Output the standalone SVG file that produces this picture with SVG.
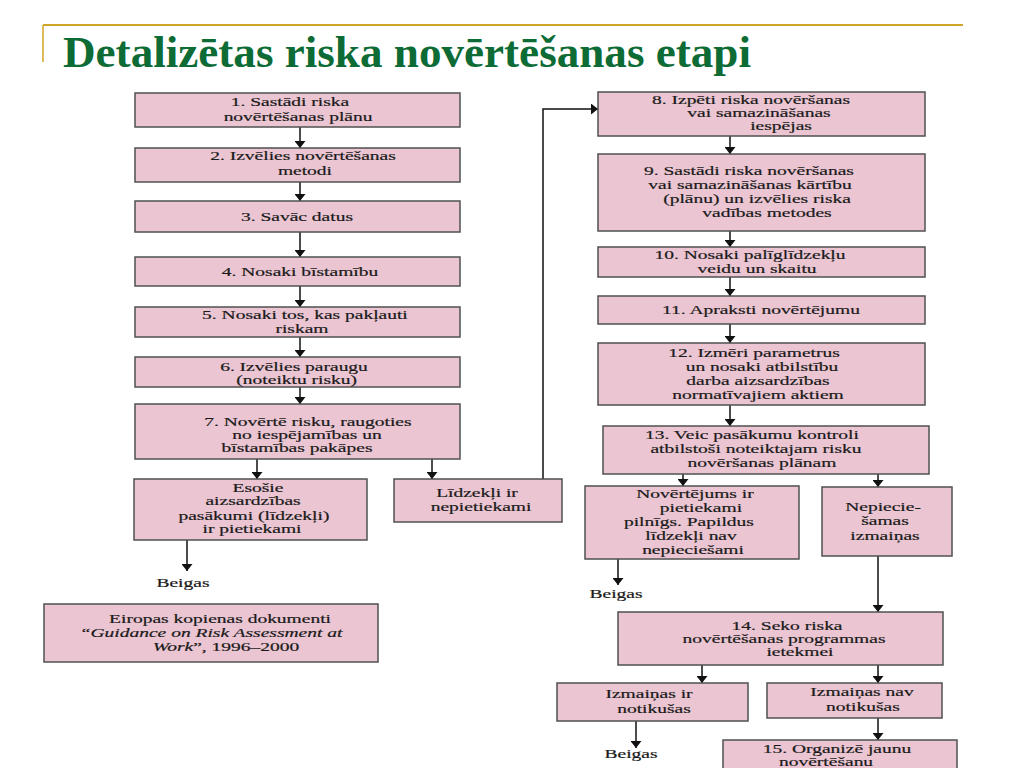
<svg xmlns="http://www.w3.org/2000/svg" width="1024" height="768" viewBox="0 0 1024 768">
<defs>
<style>
.bx{fill:#ebc6d2;stroke:#505050;stroke-width:1.5}
.t{font-family:"Liberation Serif","Times New Roman",serif;font-size:13px;fill:#1a1a1a;stroke:#1a1a1a;stroke-width:0.2;text-anchor:middle}
.ln{fill:none;stroke:#111;stroke-width:1.5}
.title{font-family:"Liberation Serif","Times New Roman",serif;font-size:44px;font-weight:bold;fill:#0d6b35}
</style>
<marker id="ah" viewBox="0 0 7 11" refX="7" refY="5.5" markerWidth="7" markerHeight="11" markerUnits="userSpaceOnUse" orient="auto">
<path d="M0,0 L7,5.5 L0,11 z" fill="#111"/>
</marker>
</defs>
<rect width="1024" height="768" fill="#fff"/>
<g id="header">
<line x1="43" y1="25" x2="963" y2="25" stroke="#d1a52a" stroke-width="2"/>
<line x1="43" y1="25" x2="43" y2="62" stroke="#d1a52a" stroke-width="1.5"/>
<text class="title" x="63" y="67" textLength="688" lengthAdjust="spacingAndGlyphs">Detalizētas riska novērtēšanas etapi</text>
</g>
<g id="connectors">
<path class="ln" marker-end="url(#ah)" d="M300,127 V148"/>
<path class="ln" marker-end="url(#ah)" d="M300,182 V201"/>
<path class="ln" marker-end="url(#ah)" d="M300,232 V257"/>
<path class="ln" marker-end="url(#ah)" d="M300,286 V307"/>
<path class="ln" marker-end="url(#ah)" d="M300,337 V357"/>
<path class="ln" marker-end="url(#ah)" d="M300,387 V404"/>
<path class="ln" marker-end="url(#ah)" d="M257,459 V479"/>
<path class="ln" marker-end="url(#ah)" d="M432,459 V479"/>
<path class="ln" marker-end="url(#ah)" d="M187,540 V571"/>
<path class="ln" marker-end="url(#ah)" d="M543,479 V109 H598"/>
<path class="ln" marker-end="url(#ah)" d="M730,136 V154"/>
<path class="ln" marker-end="url(#ah)" d="M730,231 V247"/>
<path class="ln" marker-end="url(#ah)" d="M730,277 V296"/>
<path class="ln" marker-end="url(#ah)" d="M730,324 V343"/>
<path class="ln" marker-end="url(#ah)" d="M730,405 V426"/>
<path class="ln" marker-end="url(#ah)" d="M683,474 V486"/>
<path class="ln" marker-end="url(#ah)" d="M878,474 V487"/>
<path class="ln" marker-end="url(#ah)" d="M618,559 V585"/>
<path class="ln" marker-end="url(#ah)" d="M878,556 V612"/>
<path class="ln" marker-end="url(#ah)" d="M702,665 V683"/>
<path class="ln" marker-end="url(#ah)" d="M878,665 V683"/>
<path class="ln" marker-end="url(#ah)" d="M636,721 V748"/>
<path class="ln" marker-end="url(#ah)" d="M878,718 V740"/>
</g>
<g id="n1"><rect class="bx" x="135" y="93" width="325" height="34"/>
<text class="t" transform="scale(1.5 1)"><tspan x="193.3" y="106">1. Sastādi riska</tspan><tspan x="198.7" y="121">novērtēšanas plānu</tspan></text></g>
<g id="n2"><rect class="bx" x="135" y="148" width="325" height="34"/>
<text class="t" transform="scale(1.5 1)"><tspan x="202" y="160">2. Izvēlies novērtēšanas</tspan><tspan x="203.3" y="175">metodi</tspan></text></g>
<g id="n3"><rect class="bx" x="135" y="201" width="325" height="31"/>
<text class="t" transform="scale(1.5 1)"><tspan x="198" y="221">3. Savāc datus</tspan></text></g>
<g id="n4"><rect class="bx" x="135" y="257" width="325" height="29"/>
<text class="t" transform="scale(1.5 1)"><tspan x="200" y="276">4. Nosaki bīstamību</tspan></text></g>
<g id="n5"><rect class="bx" x="135" y="307" width="325" height="30"/>
<text class="t" transform="scale(1.5 1)"><tspan x="203.3" y="319">5. Nosaki tos, kas pakļauti</tspan><tspan x="201.3" y="333">riskam</tspan></text></g>
<g id="n6"><rect class="bx" x="135" y="357" width="325" height="30"/>
<text class="t" transform="scale(1.5 1)"><tspan x="196" y="371">6. Izvēlies paraugu</tspan><tspan x="197.8" y="384">(noteiktu risku)</tspan></text></g>
<g id="n7"><rect class="bx" x="135" y="404" width="325" height="55"/>
<text class="t" transform="scale(1.5 1)"><tspan x="205.3" y="426">7. Novērtē risku, raugoties</tspan><tspan x="204.7" y="439">no iespējamības un</tspan><tspan x="198" y="452">bīstamības pakāpes</tspan></text></g>
<g id="n-esosie"><rect class="bx" x="134" y="479" width="233" height="61"/>
<text class="t" transform="scale(1.5 1)"><tspan x="172" y="492">Esošie</tspan><tspan x="168.7" y="505">aizsardzības</tspan><tspan x="169.3" y="520">pasākumi (līdzekļi)</tspan><tspan x="168" y="533">ir pietiekami</tspan></text></g>
<g id="n-lidzekli"><rect class="bx" x="394" y="479" width="168" height="43"/>
<text class="t" transform="scale(1.5 1)"><tspan x="318" y="497">Līdzekļi ir</tspan><tspan x="320.7" y="511">nepietiekami</tspan></text></g>
<g id="end1"><text class="t" transform="scale(1.5 1)"><tspan x="122" y="587">Beigas</tspan></text></g>
<g id="source"><rect class="bx" x="44" y="604" width="334" height="58"/>
<text class="t" transform="scale(1.5 1)"><tspan x="146.7" y="623">Eiropas kopienas dokumenti</tspan><tspan x="140.7" y="637" font-style="italic">“Guidance on Risk Assessment at</tspan><tspan x="150.7" y="651"><tspan font-style="italic">Work</tspan>”, 1996–2000</tspan></text></g>
<g id="n8"><rect class="bx" x="598" y="92" width="327" height="44"/>
<text class="t" transform="scale(1.5 1)"><tspan x="500.7" y="104">8. Izpēti riska novēršanas</tspan><tspan x="506" y="117">vai samazināšanas</tspan><tspan x="520.7" y="130">iespējas</tspan></text></g>
<g id="n9"><rect class="bx" x="598" y="154" width="327" height="77"/>
<text class="t" transform="scale(1.5 1)"><tspan x="499.3" y="175">9. Sastādi riska novēršanas</tspan><tspan x="500" y="189">vai samazināšanas  kārtību</tspan><tspan x="504.7" y="203">(plānu) un izvēlies riska</tspan><tspan x="511.3" y="217">vadības metodes</tspan></text></g>
<g id="n10"><rect class="bx" x="598" y="247" width="327" height="30"/>
<text class="t" transform="scale(1.5 1)"><tspan x="500" y="259">10. Nosaki  palīglīdzekļu</tspan><tspan x="504.7" y="273">veidu un skaitu</tspan></text></g>
<g id="n11"><rect class="bx" x="598" y="296" width="327" height="28"/>
<text class="t" transform="scale(1.5 1)"><tspan x="507.3" y="314">11. Apraksti novērtējumu</tspan></text></g>
<g id="n12"><rect class="bx" x="598" y="343" width="327" height="62"/>
<text class="t" transform="scale(1.5 1)"><tspan x="502.7" y="357">12. Izmēri parametrus</tspan><tspan x="508" y="371">un nosaki atbilstību</tspan><tspan x="505.3" y="385">darba aizsardzības</tspan><tspan x="505.3" y="399">normatīvajiem aktiem</tspan></text></g>
<g id="n13"><rect class="bx" x="603" y="426" width="326" height="48"/>
<text class="t" transform="scale(1.5 1)"><tspan x="501.3" y="439">13. Veic pasākumu kontroli</tspan><tspan x="504" y="453">atbilstoši noteiktajam risku</tspan><tspan x="508" y="467">novēršanas plānam</tspan></text></g>
<g id="n-novertejums"><rect class="bx" x="585" y="486" width="214" height="73"/>
<text class="t" transform="scale(1.5 1)"><tspan x="463.3" y="498">Novērtējums ir</tspan><tspan x="467.3" y="512">pietiekami</tspan><tspan x="459.3" y="526">pilnīgs. Papildus</tspan><tspan x="460.7" y="540">līdzekļi nav</tspan><tspan x="462" y="554">nepieciešami</tspan></text></g>
<g id="n-nepieciesamas"><rect class="bx" x="822" y="487" width="130" height="69"/>
<text class="t" transform="scale(1.5 1)"><tspan x="588.7" y="511">Nepiecie-</tspan><tspan x="590" y="525">šamas</tspan><tspan x="590" y="540">izmaiņas</tspan></text></g>
<g id="end2"><text class="t" transform="scale(1.5 1)"><tspan x="410.7" y="598">Beigas</tspan></text></g>
<g id="n14"><rect class="bx" x="618" y="612" width="325" height="53"/>
<text class="t" transform="scale(1.5 1)"><tspan x="524.7" y="630">14. Seko riska</tspan><tspan x="522.7" y="643">novērtēšanas programmas</tspan><tspan x="533.3" y="656">ietekmei</tspan></text></g>
<g id="n-izm-ir"><rect class="bx" x="557" y="683" width="191" height="38"/>
<text class="t" transform="scale(1.5 1)"><tspan x="432.7" y="698">Izmaiņas ir</tspan><tspan x="436" y="713">notikušas</tspan></text></g>
<g id="n-izm-nav"><rect class="bx" x="767" y="683" width="175" height="35"/>
<text class="t" transform="scale(1.5 1)"><tspan x="574.7" y="696">Izmaiņas nav</tspan><tspan x="575.3" y="711">notikušas</tspan></text></g>
<g id="end3"><text class="t" transform="scale(1.5 1)"><tspan x="420.7" y="758">Beigas</tspan></text></g>
<g id="n15"><rect class="bx" x="723" y="740" width="234" height="40"/>
<text class="t" transform="scale(1.5 1)"><tspan x="558" y="753">15. Organizē jaunu</tspan><tspan x="550.7" y="766">novērtēšanu</tspan></text></g>
</svg>
